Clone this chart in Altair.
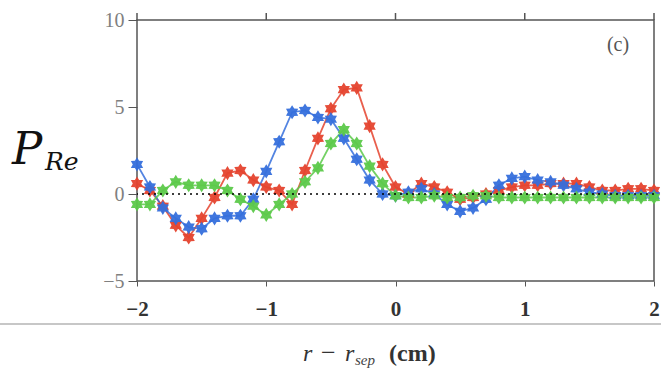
import math
import altair as alt
import pandas as pd

# ---- data ----
x_vals = [-2.0, -1.9, -1.8, -1.7, -1.6, -1.5, -1.4, -1.3, -1.2, -1.1,
          -1.0, -0.9, -0.8, -0.7, -0.6, -0.5, -0.4, -0.3, -0.2, -0.1,
          0.0, 0.1, 0.2, 0.3, 0.4, 0.5, 0.6, 0.7, 0.8, 0.9,
          1.0, 1.1, 1.2, 1.3, 1.4, 1.5, 1.6, 1.7, 1.8, 1.9, 2.0]
blue = [1.7, 0.4, -0.8, -1.4, -1.9, -2.0, -1.4, -1.25, -1.25, -0.3,
        1.3, 3.0, 4.7, 4.8, 4.4, 4.3, 3.2, 2.0, 0.8, 0.0,
        -0.1, 0.1, 0.3, 0.0, -0.6, -1.0, -0.8, -0.3, 0.5, 0.9,
        1.0, 0.8, 0.7, 0.5, 0.3, 0.1, 0.0, -0.1, -0.1, -0.1, -0.1]
red = [0.6, 0.2, -0.7, -1.8, -2.5, -1.4, -0.2, 1.2, 1.35, 0.8,
       0.4, 0.2, -0.6, 1.35, 3.2, 4.9, 6.0, 6.1, 3.9, 1.7,
       0.4, 0.0, 0.6, 0.4, 0.1, -0.3, -0.2, 0.0, 0.2, 0.4,
       0.5, 0.5, 0.6, 0.6, 0.6, 0.4, 0.2, 0.2, 0.3, 0.3, 0.2]
green = [-0.6, -0.6, 0.2, 0.7, 0.5, 0.5, 0.5, 0.2, -0.3, -0.7,
         -1.2, -0.6, 0.0, 0.7, 1.5, 2.9, 3.7, 2.9, 1.6, 0.6,
         -0.1, -0.2, -0.2, -0.1, -0.2, -0.2, -0.1, -0.1, -0.2, -0.2,
         -0.2, -0.2, -0.2, -0.2, -0.2, -0.2, -0.2, -0.2, -0.2, -0.2, -0.2]
series_names = ["red", "blue", "green"]
series_colors = ["#e5432e", "#356fdc", "#5cc94a"]
x_ticks = [-2, -1, 0, 1, 2]
y_ticks = [-5, 0, 5, 10]

rows = []
for order, (name, vals) in enumerate(zip(series_names, [red, blue, green])):
    for xv, yv in zip(x_vals, vals):
        rows.append({"x": xv, "y": yv, "s": name, "o": order})
df = pd.DataFrame(rows)

# star marker path (6-point)
pts = []
for k in range(12):
    ang = math.pi / 2 + k * math.pi / 6
    r = 1.0 if k % 2 == 0 else 0.6
    pts.append(f"{r*math.cos(ang):.3f},{-r*math.sin(ang):.3f}")
star = "M" + "L".join(pts) + "Z"

xs = alt.Scale(domain=[-2, 2], nice=False, zero=False)
ys = alt.Scale(domain=[-5, 10], nice=False, zero=False)
color = alt.Color("s:N", scale=alt.Scale(domain=series_names, range=series_colors), legend=None)

xaxis = alt.Axis(values=x_ticks, title=None, grid=False, domain=False, tickSize=5,
                 tickColor="#555", labelFont="Liberation Serif", labelFontSize=21,
                 labelFontWeight="bold", labelColor="#333", labelPadding=12, labelFlush=False)
yaxis = alt.Axis(values=y_ticks, title=None, grid=False, domain=False, tickSize=9,
                 tickColor="#555", labelFont="Liberation Serif", labelFontSize=20,
                 labelColor="#808080", labelPadding=4)

base = alt.Chart(df)
lines = base.mark_line(strokeWidth=1.8, opacity=0.85).encode(
    x=alt.X("x:Q", scale=xs, axis=xaxis),
    y=alt.Y("y:Q", scale=ys, axis=yaxis),
    color=color, detail="s:N", order="x:Q")
points = base.mark_point(shape=star, size=200, filled=True, opacity=0.95).encode(
    x=alt.X("x:Q", scale=xs, axis=xaxis),
    y=alt.Y("y:Q", scale=ys, axis=yaxis),
    color=color, order="o:Q")

zero_df = pd.DataFrame({"y": [0]})
zero = alt.Chart(zero_df).mark_rule(color="black", strokeDash=[2, 4], strokeWidth=1.6).encode(
    y=alt.Y("y:Q", scale=ys, axis=yaxis))

# upward ticks on the top frame edge
top_ticks = alt.Chart(pd.DataFrame({"x": x_ticks})).mark_rule(color="#555", strokeWidth=1.5).encode(
    x=alt.X("x:Q", scale=xs, axis=xaxis), y=alt.value(-7), y2=alt.value(0))

one = pd.DataFrame({"a": [0]})
def txt(t, x, y, size, style="normal", font="Liberation Serif", color="#222", align="left", weight="normal"):
    return alt.Chart(one).mark_text(text=t, fontSize=size, fontStyle=style, font=font,
                                    color=color, align=align, baseline="alphabetic",
                                    fontWeight=weight).encode(x=alt.value(x), y=alt.value(y))

ylabel_P = txt("P", -125, 144, 45, style="italic", font="DejaVu Serif", color="#111")
ylabel_Re = txt("Re", -92, 150, 25, style="italic", font="DejaVu Serif", color="#111")
xt1 = txt("r", 166, 341, 24, style="italic", color="#333")
xt2 = txt("−", 184, 341, 26, color="#333")
xt3 = txt("r", 208, 341, 24, style="italic", color="#333")
xt4 = txt("sep", 218, 345, 15, style="italic", color="#444")
xt5 = txt("(cm)", 252, 341, 24, color="#333", weight="bold")
panel = txt("(c)", 481, 31, 20, color="#555", align="center")

sep_line = alt.Chart(one).mark_rule(color="#b5b5b5", strokeWidth=1.5).encode(
    x=alt.value(-137), x2=alt.value(524), y=alt.value(304))

chart = alt.layer(lines, points, zero, top_ticks, ylabel_P, ylabel_Re,
                  xt1, xt2, xt3, xt4, xt5, panel, sep_line).properties(
    width=517, height=261,
    padding={"left": 137, "top": 20, "right": 7, "bottom": 92},
    autosize=alt.AutoSizeParams(type="none"),
    background="white",
).configure_view(stroke="#555", strokeWidth=1.5)

chart.save("out.html", embed_options={"renderer": "svg", "actions": False})
